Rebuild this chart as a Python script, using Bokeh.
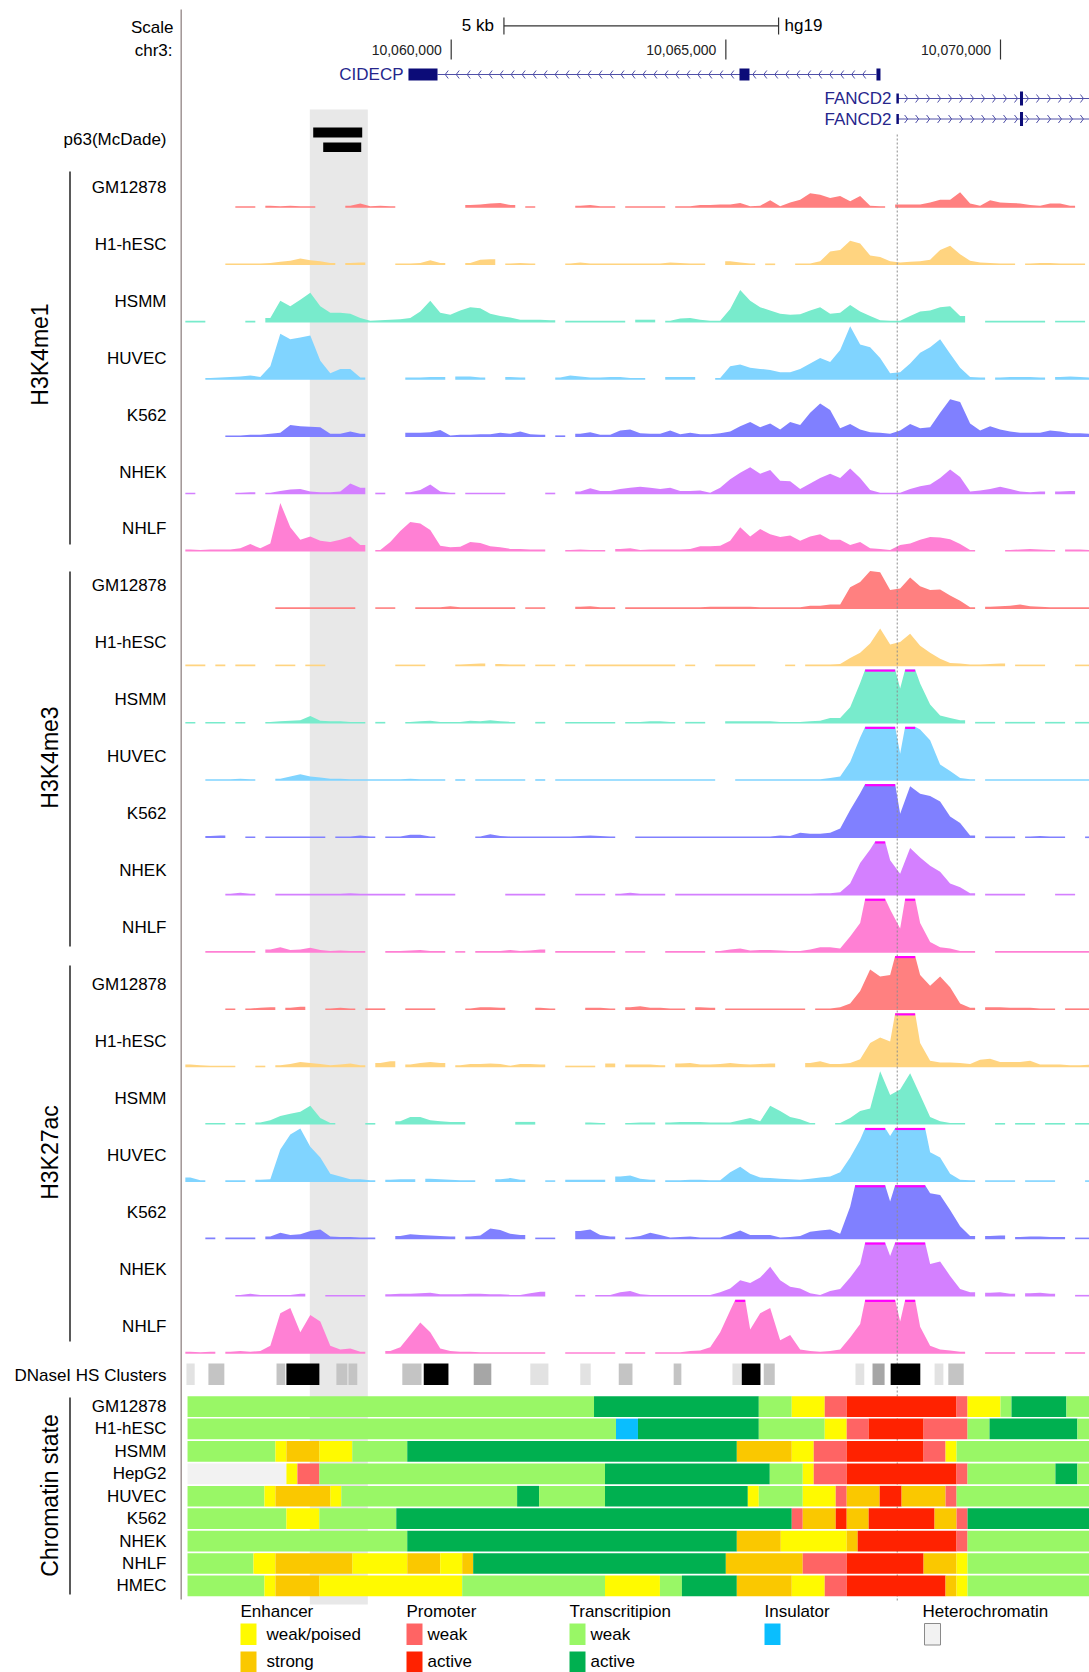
import numpy as np
from bokeh.plotting import figure
from bokeh.models import Range1d
from bokeh.core.properties import value
from bokeh.embed import file_html
from bokeh.resources import INLINE

# ---------------------------------------------------------------- data
CELLS = ["GM12878", "H1-hESC", "HSMM", "HUVEC", "K562", "NHEK", "NHLF"]
MARKS = ["H3K4me1", "H3K4me3", "H3K27ac"]
CELL_COLORS = ["#FF8080", "#FFD480", "#78EBCC", "#80D4FF", "#8080FF", "#D480FF", "#FF80D4"]

# signal bins (chr3, hg19): 91 bins of 182 bp starting at BIN_START; 100 = clipped
BIN_START = 10055160
BIN_BP = 182

ME1_GM12878 = [0,0,0,0,0, 3,3,0,4,3, 4,3,3,0,0, 0,4,8,3,4, 3,0,0,0,0, 0,0,0,5,6, 8,9,5,0,3, 0,0,0,0,4, 5,3,3,0,3,
               3,3,3,0,3, 3,5,5,6,6, 9,3,4,14,3, 10,15,27,24,18, 22,12,22,4,3, 0,6,6,6,10, 15,15,29,8,4, 14,10,9,8,5, 4,8,8,4,0, 0]
ME1_H1 = [0,0,0,0,3, 3,3,3,4,6, 8,12,9,7,4, 0,4,5,0,0, 0,3,3,4,9, 4,0,0,4,10, 11,0,3,4,3, 0,0,0,3,5, 3,3,3,3,3,
          3,3,3,5,4, 3,3,0,0,7, 5,3,0,3,0, 0,3,3,7,25, 28,45,40,18,15, 7,5,6,7,10, 28,36,20,8,5, 4,3,3,0,3, 4,4,3,3,3, 0]
ME1_HSMM = [3,3,0,0,0, 0,3,0,8,40, 30,42,55,30,18, 18,16,8,3,4, 5,6,8,20,40, 18,14,22,28,26, 16,12,9,5,5, 5,4,0,3,3, 3,3,3,3,0,
            5,5,0,3,7, 8,5,3,3,25, 60,40,28,22,16, 14,15,22,28,16, 18,32,20,12,4, 3,3,12,20,22, 28,30,12,0,0, 3,3,3,3,3, 3,0,3,3,3, 0]
ME1_HUVEC = [0,0,3,4,5, 6,8,5,25,85, 75,78,82,35,12, 20,20,4,0,0, 0,0,4,4,5, 5,0,6,6,4, 0,0,5,4,0, 0,0,4,8,6, 4,4,5,5,3,
             3,0,0,5,5, 5,0,0,3,25, 28,22,20,18,14, 14,20,30,40,33, 55,99,65,60,40, 12,14,30,50,60, 75,48,22,5,4, 0,4,5,5,5, 4,0,5,6,5, 4]
ME1_K562 = [0,0,0,0,3, 3,4,4,6,8, 22,20,19,18,6, 6,10,6,0,0, 0,0,8,8,9, 13,3,4,4,5, 5,8,6,10,5, 4,0,3,0,6, 9,4,4,12,14,
            7,6,6,12,5, 8,5,5,7,10, 20,28,18,25,14, 28,22,45,62,50, 16,24,14,9,8, 6,12,24,16,18, 45,70,65,25,12, 20,14,10,8,8, 8,12,10,7,7, 6]
ME1_NHEK = [3,0,0,0,0, 3,4,0,3,6, 9,10,5,4,4, 5,20,12,0,3, 0,0,4,8,18, 5,3,0,3,3, 3,3,0,0,0, 0,3,0,0,5, 11,6,6,10,12,
            14,12,10,12,6, 6,7,3,12,28, 40,50,38,45,25, 24,10,20,30,38, 30,48,30,8,3, 3,3,10,15,18, 30,46,32,5,7, 10,14,10,5,4, 5,0,5,6,0, 0]
ME1_NHLF = [4,3,4,4,4, 6,14,6,15,90, 45,22,28,20,18, 22,28,12,0,3, 18,38,55,52,40, 11,8,9,18,16, 10,8,5,5,4, 4,0,0,3,4, 3,3,0,5,6,
            3,4,4,4,4, 5,10,10,11,20, 45,28,42,32,27, 30,20,28,32,22, 22,12,18,6,5, 3,12,15,22,27, 26,23,14,3,0, 0,0,3,4,5, 4,3,0,4,4, 3]

ME3_GM12878 = [0,0,0,0,0, 0,0,0,0,3, 3,3,3,3,3, 3,3,0,0,3, 3,0,0,3,3, 3,5,3,3,3, 3,3,3,0,3, 3,0,0,0,4, 5,3,3,0,3,
               3,3,3,3,3, 3,3,4,4,4, 4,4,3,3,3, 3,3,6,6,8, 8,40,50,70,68, 35,38,58,42,35, 36,25,15,3,0, 4,5,6,8,5, 4,3,3,3,3, 3]
ME3_H1 = [3,3,0,3,0, 3,3,0,0,3, 3,0,3,3,0, 0,0,0,0,0, 0,3,3,3,0, 0,0,3,4,5, 0,4,3,3,0, 3,3,0,3,0, 3,3,3,3,3,
          3,3,3,3,0, 3,0,0,3,3, 3,3,0,0,0, 3,0,3,3,3, 4,15,25,42,70, 40,45,60,38,25, 14,6,5,3,3, 4,5,0,3,3, 3,0,0,0,3, 3]
ME3_HSMM = [3,0,3,3,0, 3,0,0,3,4, 5,6,14,5,4, 4,3,3,0,3, 0,0,3,4,5, 3,3,3,5,4, 6,4,3,0,0, 3,0,0,3,3, 3,3,3,0,3,
            3,4,4,3,0, 3,3,0,0,4, 4,4,4,4,3, 3,3,4,5,10, 10,30,75,100,100, 100,65,100,74,35, 15,10,6,0,3, 3,0,3,3,3, 0,3,3,0,3, 3]
ME3_HUVEC = [0,0,3,3,3, 4,3,0,0,4, 8,12,8,6,4, 4,3,3,3,3, 3,3,4,3,3, 3,0,3,0,3, 3,3,3,3,0, 3,0,3,3,3, 3,3,3,3,3,
             3,3,3,3,3, 3,3,3,0,0, 3,3,3,3,3, 3,3,3,3,5, 8,35,80,100,100, 100,50,100,95,75, 30,18,5,3,0, 3,3,3,3,3, 3,3,3,3,3, 3]
ME3_K562 = [0,0,4,5,0, 0,3,0,3,3, 3,3,3,3,0, 3,3,5,3,0, 3,3,6,6,3, 0,0,0,0,3, 7,4,3,3,3, 3,3,3,3,4, 5,4,3,0,0,
            3,3,3,3,3, 3,3,3,3,3, 3,3,3,3,5, 4,10,8,8,10, 18,52,83,100,100, 100,45,96,82,78, 68,40,28,5,0, 3,3,3,0,3, 4,3,3,0,0, 3]
ME3_NHEK = [0,0,0,0,3, 5,3,0,0,3, 3,3,3,3,3, 3,4,3,3,3, 3,3,0,3,3, 3,3,0,0,0, 0,0,3,3,3, 3,0,0,0,3, 3,3,0,3,5,
            3,3,3,0,3, 3,3,3,3,3, 3,3,3,3,3, 3,3,3,4,4, 6,22,60,85,100, 65,40,88,70,55, 44,22,15,4,0, 3,3,3,3,0, 0,0,3,3,0, 0]
ME3_NHLF = [0,0,3,3,3, 3,3,0,6,10, 5,6,9,5,3, 4,3,3,0,0, 3,3,4,5,3, 3,0,3,0,3, 3,3,5,3,4, 6,0,3,3,3, 3,3,3,0,3,
            3,0,0,3,3, 3,3,0,3,6, 8,4,5,5,4, 3,3,6,10,10, 8,30,55,100,100, 80,45,100,55,20, 10,8,3,3,0, 0,3,3,3,3, 3,3,3,3,3, 3]

K27_GM12878 = [0,0,0,0,3, 0,3,4,5,0, 4,6,0,0,3, 4,3,0,3,3, 0,0,3,3,3, 0,0,0,3,5, 5,4,0,0,0, 4,3,0,0,0, 4,4,3,0,5,
               7,4,4,3,3, 0,5,4,0,3, 3,3,3,3,3, 3,3,0,3,3, 5,12,35,75,62, 65,100,100,65,45, 62,42,12,4,0, 5,5,4,4,4, 3,3,0,3,3, 3]
K27_H1 = [5,4,3,3,3, 0,0,3,0,4, 6,10,8,6,4, 5,7,4,0,8, 11,0,5,8,10, 8,0,4,6,6, 7,6,3,6,6, 5,0,0,3,3, 3,0,7,0,5,
          5,5,4,0,7, 8,5,5,6,8, 6,5,6,7,0, 0,0,8,11,6, 6,8,15,45,55, 48,100,100,45,12, 9,9,8,6,14, 16,10,10,10,12, 5,5,5,4,4, 5]
K27_HSMM = [0,0,3,3,0, 3,0,4,8,16, 20,24,35,12,3, 0,0,0,3,0, 0,6,14,14,8, 6,5,5,0,0, 0,0,0,5,5, 0,0,0,0,0, 4,3,0,0,3,
            4,4,0,4,5, 5,5,4,4,4, 8,12,6,35,25, 14,10,3,0,0, 3,12,25,30,99, 55,65,95,55,14, 6,3,3,0,0, 0,3,0,3,3, 0,3,3,0,3, 3]
K27_HUVEC = [8,3,0,0,3, 3,0,4,5,60, 88,99,65,45,15, 10,5,5,3,0, 4,5,5,0,6, 5,4,3,3,0, 0,5,7,4,0, 0,3,0,4,4, 4,4,0,10,12,
             6,4,0,3,3, 4,4,3,3,18, 28,15,8,7,6, 5,4,6,8,10, 18,45,78,100,100, 85,100,100,100,55, 45,15,4,3,0, 3,3,3,0,3, 3,3,0,0,0, 3]
K27_K562 = [0,0,3,0,3, 3,3,0,5,12, 8,9,15,18,5, 4,4,3,3,0, 0,6,9,8,7, 6,5,0,5,7, 20,17,10,8,0, 3,3,0,0,15, 18,8,5,0,3,
            6,12,8,3,4, 5,3,3,3,9, 16,8,8,8,3, 4,6,14,16,18, 10,60,100,100,100, 70,100,100,100,85, 82,54,24,6,0, 6,7,0,4,5, 5,4,4,0,3, 3]
K27_NHEK = [0,0,0,0,0, 3,5,3,3,3, 3,5,0,0,3, 3,3,3,0,0, 4,5,5,6,7, 4,4,4,5,5, 4,4,3,3,6, 9,0,0,0,3, 0,3,3,8,10,
            4,3,3,3,3, 3,3,3,8,15, 30,25,35,55,30, 18,15,6,3,10, 14,35,60,100,100, 75,100,100,100,60, 65,38,14,8,0, 7,8,5,0,6, 7,5,0,0,3, 3]
K27_NHLF = [4,3,4,0,4, 5,4,5,15,75, 85,40,72,60,15, 8,10,4,0,0, 5,12,35,58,40, 10,5,4,4,3, 3,3,3,3,3, 3,0,0,3,3, 3,3,3,0,3,
            3,0,3,3,3, 5,6,12,40,80, 100,45,75,85,25, 35,8,5,4,5, 8,30,55,100,100, 100,60,100,50,15, 8,6,4,0,0, 3,3,3,0,3, 3,3,0,3,3, 0]

SIGNALS = [
    [ME1_GM12878, ME1_H1, ME1_HSMM, ME1_HUVEC, ME1_K562, ME1_NHEK, ME1_NHLF],
    [ME3_GM12878, ME3_H1, ME3_HSMM, ME3_HUVEC, ME3_K562, ME3_NHEK, ME3_NHLF],
    [K27_GM12878, K27_H1, K27_HSMM, K27_HUVEC, K27_K562, K27_NHEK, K27_NHLF],
]

# ruler
TICK_POS = [10060000, 10065000, 10070000]
TICK_LABELS = ["10,060,000", "10,065,000", "10,070,000"]
SCALE_BAR_BP = [10060960, 10065960]

# genes
CIDECP_EXON_START = [10059222, 10065248, 10067742]
CIDECP_EXON_END = [10059751, 10065430, 10067815]
FANCD2_TSS = 10068120
FANCD2_EXON_START = [10068105, 10070355]
FANCD2_EXON_END = [10068150, 10070410]

# p63 (McDade) peaks and highlighted region
P63_START = [10057488, 10057670]
P63_END = [10058380, 10058362]
HIGHLIGHT = [10057426, 10058482]

# DNaseI HS clusters (shade 0 light .. 3 black)
DHS_START = [10055180, 10055580, 10056820, 10057000, 10057910, 10058130, 10059110, 10059500, 10060410, 10061440,
             10062350, 10063050, 10064050, 10065120, 10065290, 10065690, 10067360, 10067670, 10068000, 10068800, 10069050]
DHS_END = [10055330, 10055870, 10056980, 10057600, 10058110, 10058290, 10059460, 10059950, 10060730, 10061770,
           10062540, 10063300, 10064190, 10065290, 10065630, 10065890, 10067520, 10067890, 10068540, 10068960, 10069330]
DHS_SHADE = [0, 1, 1, 3, 1, 1, 1, 3, 2, 0, 0, 1, 1, 0, 3, 1, 0, 2, 3, 0, 1]

# chromatin state (W weak txn, A active txn, Y weak enh, O strong enh, P weak prom, R active prom, I insulator, H heterochr.)
CS_CELLS = ["GM12878", "H1-hESC", "HSMM", "HepG2", "HUVEC", "K562", "NHEK", "NHLF", "HMEC"]
CS_EDGES = [
    [10055200, 10062600, 10065600, 10066200, 10066800, 10067200, 10069200, 10069400, 10070000, 10070200, 10071200, 10071700],
    [10055200, 10063000, 10063400, 10065600, 10066800, 10067200, 10067600, 10068600, 10069400, 10069800, 10071400, 10071700],
    [10055200, 10056800, 10057000, 10057600, 10058200, 10059200, 10065200, 10066200, 10066600, 10067200, 10068600, 10069000, 10069200, 10071700],
    [10055200, 10057000, 10057200, 10057600, 10062800, 10065800, 10066400, 10066600, 10067200, 10069200, 10069400, 10071000, 10071400, 10071700],
    [10055200, 10056600, 10056800, 10057800, 10058000, 10061200, 10061600, 10062800, 10065400, 10065600, 10066400, 10067000, 10067200,
     10067800, 10068200, 10069000, 10069200, 10071700],
    [10055200, 10057000, 10057600, 10059000, 10066200, 10066400, 10067000, 10067200, 10067600, 10068800, 10069200, 10069400, 10071700],
    [10055200, 10059200, 10065200, 10066000, 10067200, 10067400, 10069200, 10069400, 10071700],
    [10055200, 10056400, 10056800, 10058200, 10059200, 10059800, 10060200, 10060400, 10065000, 10066400, 10067200, 10068600, 10069200,
     10069400, 10071700],
    [10055200, 10056600, 10056800, 10057600, 10060200, 10062800, 10063800, 10064200, 10065200, 10066200, 10066800, 10067200, 10069000,
     10069200, 10069400, 10071700],
]
CS_STATES = ["WAWYPRPYWAW", "WIAWYPRPWAW", "WYOYWAOYPRPYW", "HYPWAWYPRPWAW", "WYOYWAWAYWYPOROPW",
             "WYWAPOROROPA", "WAOYORPW", "WYOYOYOAOPROYW", "WYOYWYWAOYPROYW"]
STATE_COLORS = {"W": "#99F766", "A": "#00B050", "Y": "#FFFA00", "O": "#FAC800", "P": "#FF6464",
                "R": "#FF2200", "I": "#0ABEFE", "H": "#F2F2F2"}

# ---------------------------------------------------------------- layout
W, H = 1089, 1672
BP_PER_PX = 18.205
REF_BP, REF_PX = 10060000, 450.7


def px(x):
    return REF_BP + (x - REF_PX) * BP_PER_PX


FONT = value("Liberation Sans")
TRACK0, TRACK_STEP, TRACK_H = 207.3, 57.3, 54.0
LABEL0, LABEL_STEP = 186.7, 56.96
CS_TOP0, CS_STEP, CS_H = 1395.7, 22.42, 20.7

p = figure(width=W, height=H, x_range=Range1d(px(0), px(W)), y_range=Range1d(H, 0),
           output_backend="svg", toolbar_location=None, min_border=0,
           x_axis_type=None, y_axis_type=None)
p.grid.visible = False
p.outline_line_color = None
p.background_fill_color = "white"
p.border_fill_color = "white"


def txt(xs, ys, texts, size="17px", align="right", color="black", angle=0.0, baseline="middle"):
    p.text(x=xs, y=ys, text=texts, text_font=FONT, text_font_size=size, text_align=align,
           text_baseline=baseline, text_color=color, angle=angle)


# highlighted region
p.quad(left=[HIGHLIGHT[0]], right=[HIGHLIGHT[1]], top=[109], bottom=[1604], fill_color="#E8E8E8", line_color=None)

# ruler
p.segment(x0=[SCALE_BAR_BP[0]], y0=[25.3], x1=[SCALE_BAR_BP[1]], y1=[25.3], line_color="#333333", line_width=1.2)
p.segment(x0=SCALE_BAR_BP, y0=[17, 17], x1=SCALE_BAR_BP, y1=[34, 34], line_color="#333333", line_width=1.2)
txt([SCALE_BAR_BP[0] - 10 * BP_PER_PX], [25.3], ["5 kb"], align="right")
txt([SCALE_BAR_BP[1] + 6 * BP_PER_PX], [25.3], ["hg19"], align="left")
p.segment(x0=TICK_POS, y0=[39] * 3, x1=TICK_POS, y1=[59] * 3, line_color="#333333", line_width=1.2)
txt([t - 9.5 * BP_PER_PX for t in TICK_POS], [49] * 3, TICK_LABELS, size="14px", color="#222222")
txt([px(173), px(172)], [26.5, 50], ["Scale", "chr3:"])

# genes
GENE_LINE, GENE_FILL, GENE_TEXT = "#5050A8", "#0C0C78", "#26268C"
p.segment(x0=[CIDECP_EXON_END[0]], y0=[74], x1=[CIDECP_EXON_START[-1]], y1=[74], line_color=GENE_LINE, line_width=1)
chev = [c for c in np.arange(CIDECP_EXON_END[0] + 140, CIDECP_EXON_START[-1] - 60, 200)
        if not (CIDECP_EXON_START[1] - 70 < c < CIDECP_EXON_END[1] + 20)]
p.multi_line(xs=[[c + 55, c, c + 55] for c in chev], ys=[[70, 74, 78]] * len(chev), line_color=GENE_LINE, line_width=1)
p.quad(left=CIDECP_EXON_START, right=CIDECP_EXON_END, top=[68] * 3, bottom=[80] * 3, fill_color=GENE_FILL, line_color=None)
txt([px(403)], [74], ["CIDECP"], color=GENE_TEXT)
for gy in (98, 118.5):
    p.segment(x0=[FANCD2_TSS], y0=[gy], x1=[px(1095)], y1=[gy], line_color=GENE_LINE, line_width=1)
    ch = [c for c in np.arange(FANCD2_TSS + 190, px(1092), 200)
          if not (FANCD2_EXON_START[1] - 20 < c < FANCD2_EXON_END[1] + 70)]
    p.multi_line(xs=[[c - 55, c, c - 55] for c in ch], ys=[[gy - 4, gy, gy + 4]] * len(ch), line_color=GENE_LINE, line_width=1)
    p.quad(left=FANCD2_EXON_START, right=FANCD2_EXON_END, top=[gy - 5, gy - 7], bottom=[gy + 5, gy + 7],
           fill_color=GENE_FILL, line_color=None)
    txt([px(891)], [gy], ["FANCD2"], color=GENE_TEXT)

# p63
p.quad(left=P63_START, right=P63_END, top=[127, 142], bottom=[137, 151.5], fill_color="black", line_color=None)
txt([px(166)], [139], ["p63(McDade)"])

# signal tracks
NBIN = 91
edges = [BIN_START + BIN_BP * k for k in range(NBIN + 1)]
centers = [e + BIN_BP / 2 for e in edges[:-1]]
ranges = {}
span = 100.0 * H / TRACK_H
for i in range(21):
    b = TRACK0 + TRACK_STEP * i
    end = b * 100.0 / TRACK_H
    ranges["t%d" % i] = Range1d(start=end - span, end=end)
p.extra_y_ranges = ranges


def runs(vals, test):
    out, k = [], 0
    while k < len(vals):
        if not test(vals[k]):
            k += 1
            continue
        j = k
        while j < len(vals) and test(vals[j]):
            j += 1
        out.append((k, j))
        k = j
    return out


for mi, mark in enumerate(MARKS):
    for ci, cell in enumerate(CELLS):
        i = mi * 7 + ci
        name = "t%d" % i
        vals = [min(float(v), 100.0) for v in (list(SIGNALS[mi][ci]) + [0] * NBIN)[:NBIN]]
        xs_l, ys_l = [], []
        for a, z in runs(vals, lambda v: v > 0):
            xs, ys = [edges[a]], [0.0]
            for m in range(a, z):
                if vals[m] >= 100:           # clipped bins keep a flat top over the whole bin
                    xs += [edges[m], edges[m + 1]]
                    ys += [100.0, 100.0]
                else:
                    if m == a:
                        xs.append(edges[a]); ys.append(vals[a])
                    xs.append(centers[m]); ys.append(vals[m])
                    if m == z - 1:
                        xs.append(edges[z]); ys.append(vals[m])
            xs.append(edges[z]); ys.append(0.0)
            xs_l.append(xs)
            ys_l.append(ys)
        p.patches(xs=xs_l, ys=ys_l, y_range_name=name, fill_color=CELL_COLORS[ci], line_color=None)
        clip = runs(vals, lambda v: v >= 100)
        if clip:
            p.quad(left=[edges[a] for a, z in clip], right=[edges[z] for a, z in clip],
                   bottom=[96.0] * len(clip), top=[100.0] * len(clip), y_range_name=name,
                   fill_color="#FF00FF", line_color=None)
        txt([px(166)], [LABEL0 + LABEL_STEP * i], [cell])

# FANCD2 TSS guide
p.segment(x0=[FANCD2_TSS], y0=[134], x1=[FANCD2_TSS], y1=[1600], line_color="#8C8C8C", line_width=1, line_dash="2 2")

# DNaseI clusters
SHADES = ["#E2E2E2", "#C4C4C4", "#A6A6A6", "#000000"]
p.quad(left=DHS_START, right=DHS_END, top=[1363] * len(DHS_START), bottom=[1384.5] * len(DHS_START),
       fill_color=[SHADES[s] for s in DHS_SHADE], line_color=None)
txt([px(166)], [1375], ["DNaseI HS Clusters"])

# chromatin states
L, R, T, B, C = [], [], [], [], []
for r, (ed, st) in enumerate(zip(CS_EDGES, CS_STATES)):
    top = CS_TOP0 + CS_STEP * r
    for s in range(len(st)):
        L.append(ed[s]); R.append(ed[s + 1]); T.append(top); B.append(top + CS_H); C.append(STATE_COLORS[st[s]])
p.quad(left=L, right=R, top=T, bottom=B, fill_color=C, line_color=None)
txt([px(166)] * len(CS_CELLS), [CS_TOP0 + CS_STEP * r + CS_H / 2 for r in range(len(CS_CELLS))], CS_CELLS)

# group brackets and labels
p.segment(x0=[px(69.5)] * 4, y0=[171, 571, 965, 1397], x1=[px(69.5)] * 4, y1=[544, 946, 1341, 1594],
          line_color="black", line_width=1.3)
txt([px(39), px(49.5), px(49.5), px(49)], [354, 757, 1152, 1495],
    ["H3K4me1", "H3K4me3", "H3K27ac", "Chromatin state"], size="23px", align="center", angle=np.pi / 2)

# left border
p.segment(x0=[px(180.7)], y0=[9], x1=[px(180.7)], y1=[1599], line_color="#A09494", line_width=1.5)

# legend
LEG_X = [240, 406, 569, 764, 922]
txt([px(x) for x in LEG_X], [1611] * 5, ["Enhancer", "Promoter", "Transcritipion", "Insulator", "Heterochromatin"], align="left")
sw_l = [240, 240, 406, 406, 569, 569, 764, 924]
sw_t = [1623, 1651, 1623, 1651, 1623, 1651, 1623, 1623]
sw_c = ["#FFFA00", "#FAC800", "#FF6464", "#FF2200", "#99F766", "#00B050", "#0ABEFE", "#F2F2F2"]
sw_line = [None] * 7 + ["#8A8A8A"]
for xl, yt, cc, lc in zip(sw_l, sw_t, sw_c, sw_line):
    p.quad(left=[px(xl)], right=[px(xl + 16)], top=[yt], bottom=[yt + 21.5], fill_color=cc,
           line_color=lc, line_width=1)
txt([px(266), px(266), px(427), px(427), px(590), px(590)], [1634, 1661, 1634, 1661, 1634, 1661],
    ["weak/poised", "strong", "weak", "active", "weak", "active"], align="left")

open("out.html", "w").write(file_html(p, INLINE))
